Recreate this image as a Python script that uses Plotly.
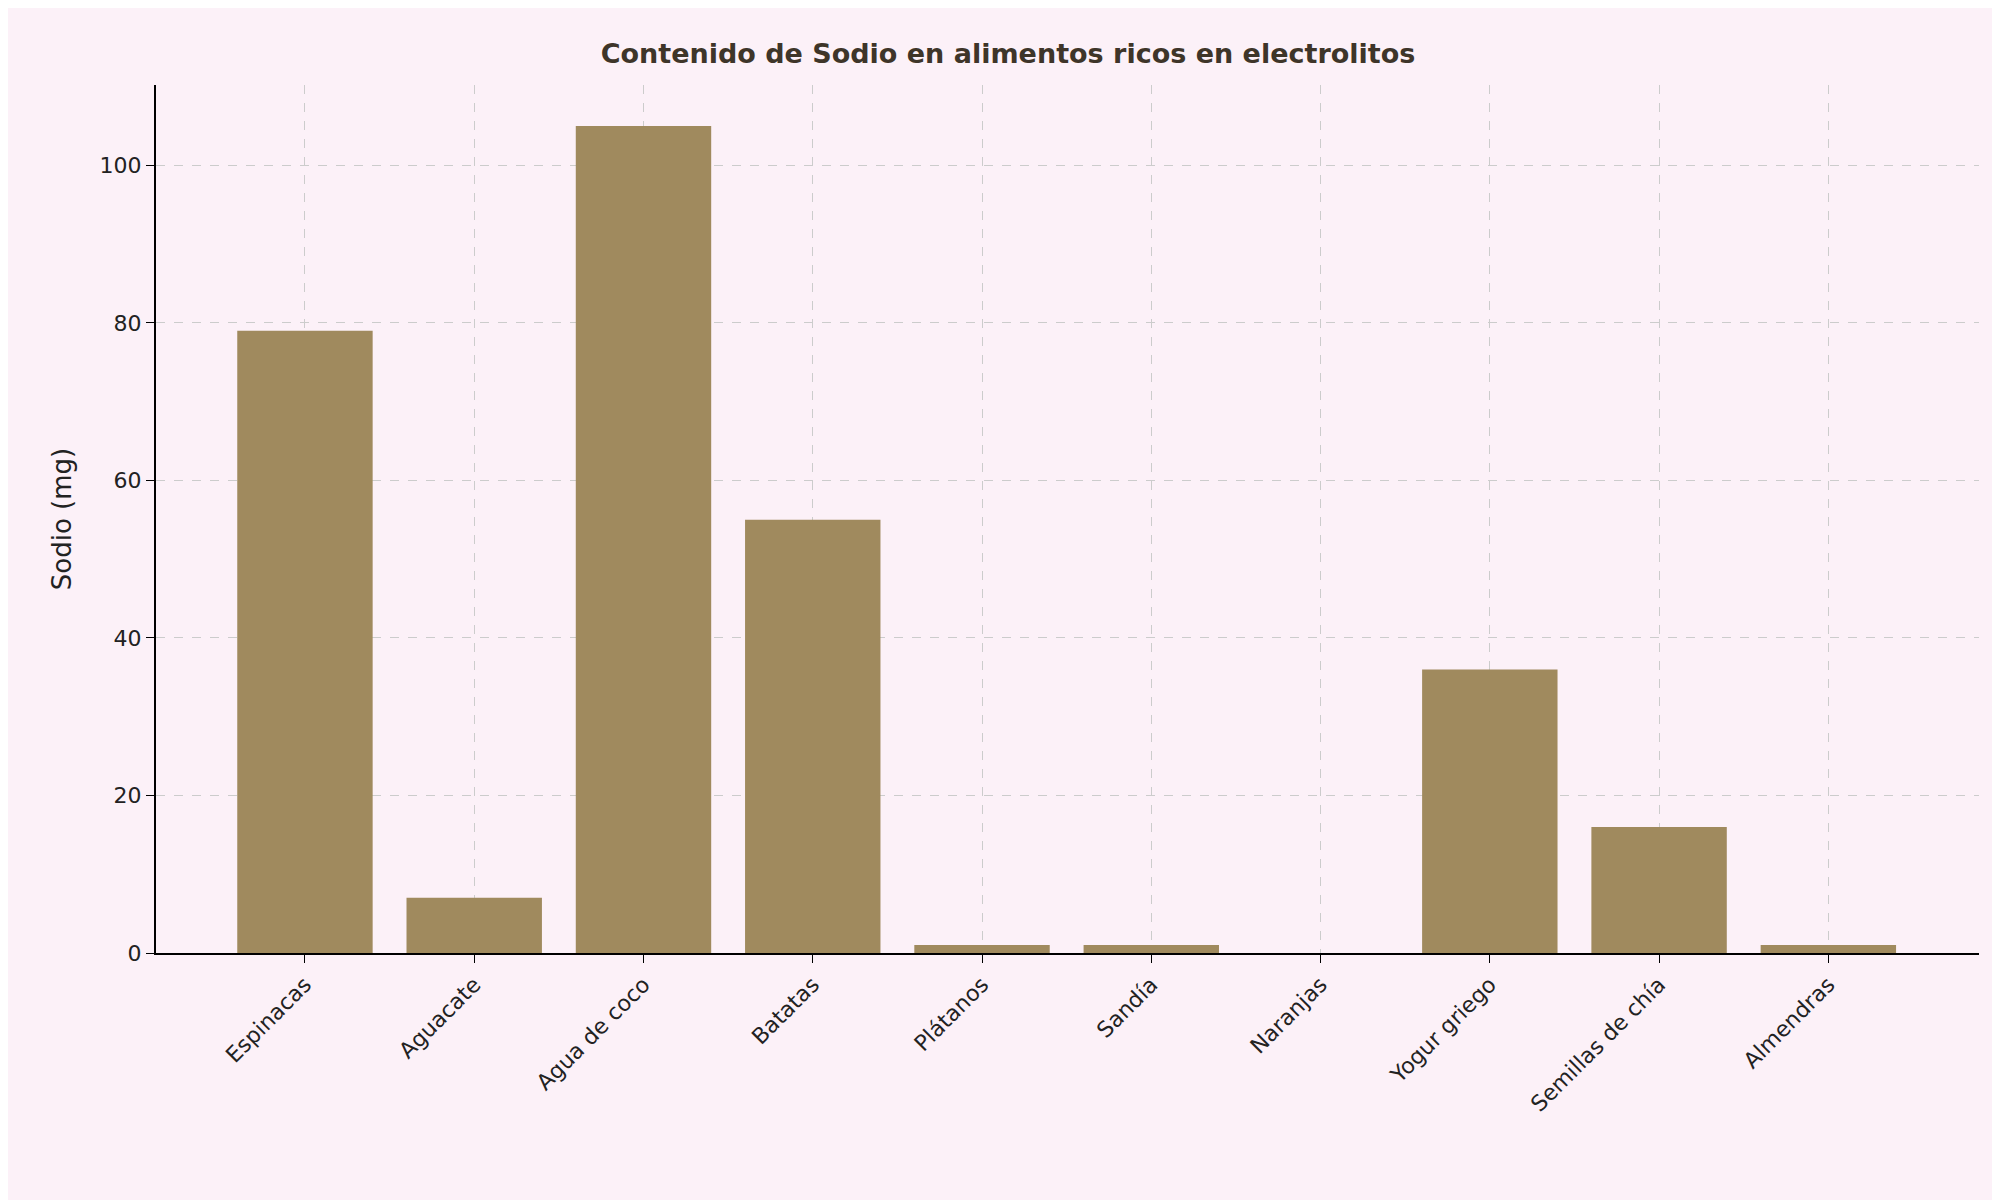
import plotly.graph_objects as go

foods = ["Espinacas", "Aguacate", "Agua de coco", "Batatas", "Plátanos",
         "Sandía", "Naranjas", "Yogur griego", "Semillas de chía", "Almendras"]
sodium = [79, 7, 105, 55, 1, 1, 0, 36, 16, 1]

bg = "#fcf1f8"
fig = go.Figure(go.Bar(x=list(range(len(foods))), y=sodium, width=0.8,
                       marker=dict(color="#a08a5e", line=dict(width=0))))

fig.update_layout(
    width=2000, height=1200,
    paper_bgcolor=bg, plot_bgcolor=bg,
    margin=dict(l=148, r=29, t=77, b=255),
    font=dict(family="DejaVu Sans", color="#222222", size=22),
    title=dict(text="<b>Contenido de Sodio en alimentos ricos en electrolitos</b>",
               x=0.5, xanchor="center", y=0.97, yanchor="top",
               font=dict(size=27, color="#3e3529")),
    showlegend=False,
)
fig.update_xaxes(range=[-0.88, 9.89], tickvals=list(range(len(foods))), ticktext=foods,
                 tickangle=-45, showline=True, linecolor="black", linewidth=2,
                 ticks="outside", ticklen=8, tickcolor="black",
                 showgrid=True, gridcolor="#cccccc", griddash="dash", gridwidth=1,
                 zeroline=False)
fig.update_yaxes(range=[0, 110.2], tickvals=[0, 20, 40, 60, 80, 100],
                 title=dict(text="Sodio (mg)", standoff=20),
                 showline=True, linecolor="black", linewidth=2,
                 ticks="outside", ticklen=8, tickcolor="black",
                 showgrid=True, gridcolor="#cccccc", griddash="dash", gridwidth=1,
                 zeroline=False)

fig.write_html("out.html")
